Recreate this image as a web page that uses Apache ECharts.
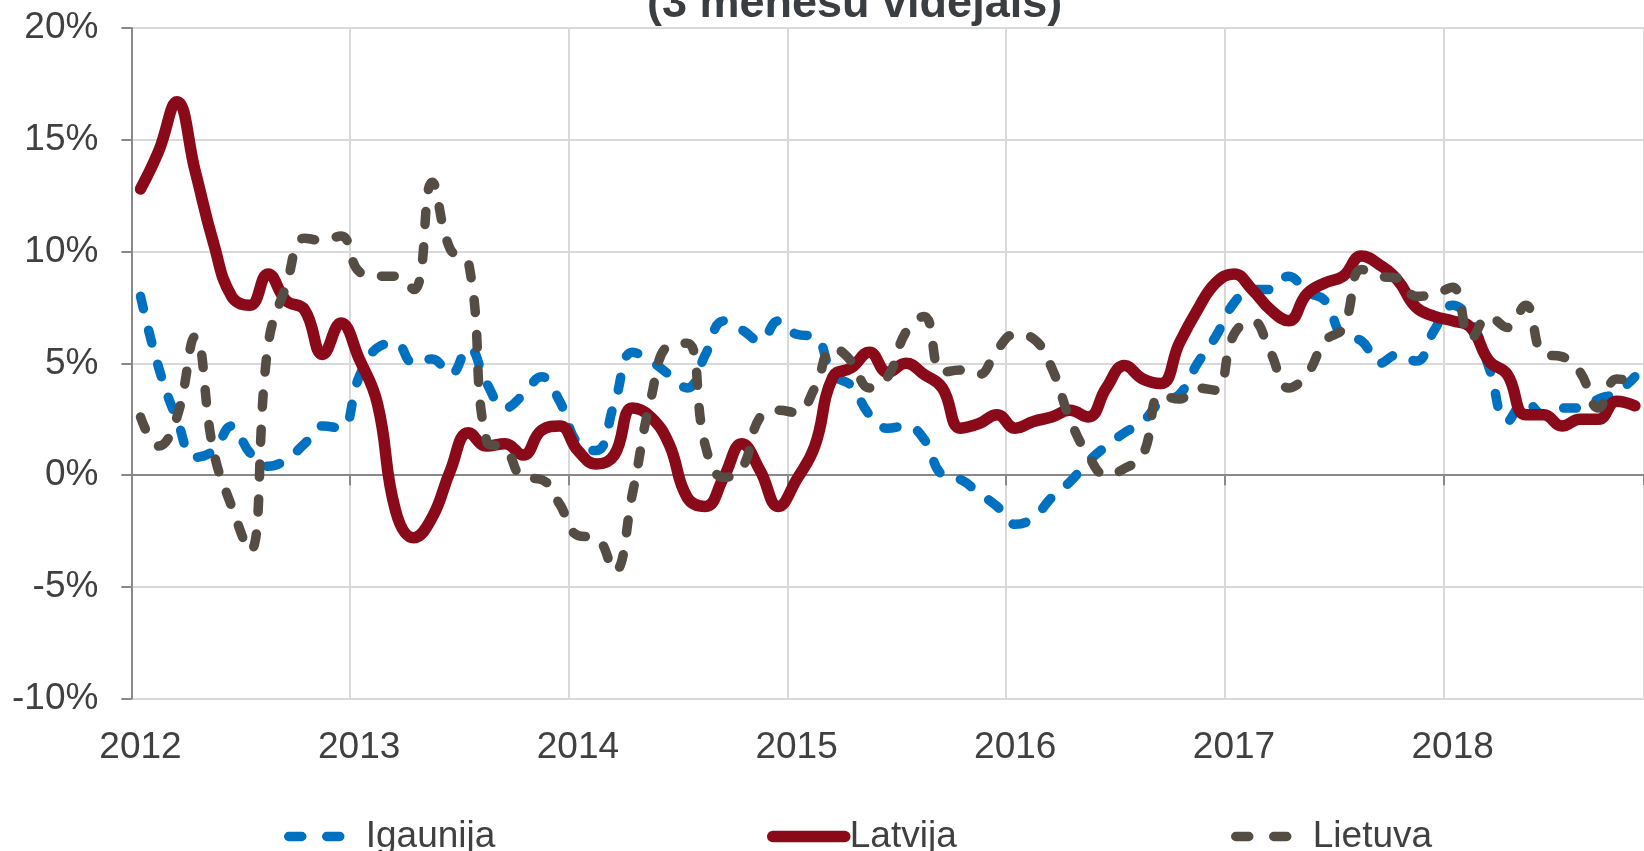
<!DOCTYPE html>
<html>
<head>
<meta charset="utf-8">
<script src="https://cdn.jsdelivr.net/npm/echarts@6/dist/echarts.min.js"></script>
<style>
  html, body { margin: 0; padding: 0; background: #fff; }
  #chart { width: 1644px; height: 851px; }
</style>
</head>
<body>
<div id="chart"></div>
<script>
// monthly points, Jan 2012 .. Nov 2018 (chart is cropped on the right)
const years = ['2012', '2013', '2014', '2015', '2016', '2017', '2018']
const months = []
years.forEach((y) => {
  for (let m = 1; m <= 12; m++) months.push(y + '-' + String(m).padStart(2, '0'))
})
const categories = months.slice(0, 83)

const igaunija = [
  8.0, 4.8, 2.5, 0.8, 1.1, 2.2, 1.0, 0.4, 0.7, 1.4, 2.2, 2.1,
  4.4, 5.7, 5.9, 5.0, 5.2, 4.5, 5.7, 4.1, 3.0, 3.6, 4.4, 3.3,
  1.4, 1.1, 3.2, 5.5, 5.1, 4.5, 3.9, 5.4, 6.9, 6.5, 6.0, 6.9,
  6.3, 6.2, 4.5, 4.0, 2.7, 2.1, 2.2, 1.6, 0.0, -0.2, -0.8, -1.4,
  -2.2, -1.9, -1.0, -0.3, 0.6, 1.3, 1.9, 2.4, 3.3, 3.6, 5.0, 6.2,
  7.7, 8.3, 8.3, 8.9, 8.2, 7.8, 6.2, 6.0, 5.0, 5.4, 5.1, 6.5,
  7.6, 6.9, 4.8, 2.4, 3.3, 2.7, 3.0, 3.0, 3.4, 3.7, 4.4,
]
const latvija = [
  12.8, 14.5, 16.7, 13.6, 10.4, 8.0, 7.6, 9.0, 7.8, 7.4, 5.4, 6.8,
  5.2, 3.2, -1.6, -2.8, -1.9, 0.2, 1.9, 1.3, 1.4, 0.9, 2.0, 2.2,
  1.1, 0.5, 0.9, 3.0, 2.6, 1.4, -1.0, -1.4, -0.1, 1.4, 0.2, -1.4,
  -0.2, 1.3, 4.4, 4.8, 5.5, 4.6, 5.0, 4.5, 3.9, 2.1, 2.3, 2.7,
  2.1, 2.4, 2.6, 2.9, 2.6, 3.9, 4.9, 4.3, 4.1, 5.9, 7.4, 8.6,
  9.0, 8.3, 7.4, 6.9, 8.1, 8.6, 8.9, 9.8, 9.4, 8.7, 7.5, 7.1,
  6.9, 6.6, 5.1, 4.5, 2.7, 2.7, 2.2, 2.5, 2.5, 3.3, 3.1,
]
const lietuva = [
  2.6, 1.3, 2.6, 6.2, 1.1, -1.4, -3.4, 5.8, 8.5, 10.6, 10.5, 10.7,
  9.1, 8.9, 8.9, 8.3, 13.1, 10.1, 9.5, 1.5, 1.2, -0.1, -0.2, -1.3,
  -2.7, -2.8, -4.3, -0.8, 3.4, 5.8, 5.9, 1.3, -0.1, 0.3, 2.6, 2.9,
  2.8, 3.9, 5.7, 5.1, 3.9, 4.4, 6.4, 7.1, 4.6, 4.7, 4.5, 5.6,
  6.3, 6.1, 4.8, 2.5, 0.9, 0.0, 0.3, 0.9, 3.6, 3.4, 3.9, 3.8,
  6.3, 6.9, 5.5, 3.9, 4.5, 6.0, 6.6, 9.2, 8.9, 8.8, 8.0, 8.1,
  8.4, 6.1, 7.1, 6.6, 7.6, 5.4, 5.3, 4.6, 3.0, 4.3, 4.2,
]

const FONT = 'Liberation Sans, Arial, sans-serif'
const TEXT = '#404040'
const GRID_LINE = '#d9d9d9'
const AXIS_LINE = '#898989'
const DASH = [13, 22]
const LEGEND_DASH = [13, 25]
const DASHED_WIDTH = 9.5
const SOLID_WIDTH = 11.5

const chart = echarts.init(document.getElementById('chart'), null, { renderer: 'canvas' })

const makeSeries = (name, data, color, width, dashed) => ({
  name,
  type: 'line',
  data,
  xAxisIndex: 0,
  symbol: 'none',
  smooth: 0.45,
  lineStyle: {
    color,
    width,
    type: dashed ? DASH : 'solid',
    cap: 'round',
    join: 'round',
  },
  itemStyle: { color },
  emphasis: { disabled: true },
})

// one legend per series: the reference spreads them far apart
const makeLegend = (name, left, width, dashed) => ({
  data: [name],
  left,
  top: 818,
  padding: 0,
  itemWidth: 72,
  itemHeight: 14,
  selectedMode: false,
  itemStyle: { opacity: 0 },
  lineStyle: { width, type: dashed ? LEGEND_DASH : 'solid', cap: 'round' },
  textStyle: { fontFamily: FONT, fontSize: 37, color: TEXT },
})

chart.setOption({
  animation: false,
  backgroundColor: '#fff',
  title: {
    text: '(3 mēnešu vidējais)',
    left: 647,
    top: -18,
    padding: 0,
    textStyle: { fontFamily: FONT, fontSize: 45, fontWeight: 'bold', color: '#3b3e41' },
  },
  legend: [
    makeLegend('Igaunija', 284, DASHED_WIDTH, true),
    makeLegend('Latvija', 767, SOLID_WIDTH, false),
    makeLegend('Lietuva', 1231, DASHED_WIDTH, true),
  ],
  grid: { left: 131.4, top: 28, right: -10.5, bottom: 152.3, containLabel: false },
  xAxis: [
    {
      type: 'category',
      data: categories,
      boundaryGap: true,
      position: 'bottom',
      axisLine: { show: false, onZero: false },
      axisTick: { show: false },
      axisLabel: {
        interval: 11,
        margin: 31,
        fontFamily: FONT,
        fontSize: 37,
        color: TEXT,
        formatter: (v) => v.slice(0, 4),
      },
      splitLine: { show: true, interval: 11, lineStyle: { color: GRID_LINE, width: 2 } },
    },
    {
      // zero line with the year ticks hanging below it
      type: 'category',
      data: categories,
      boundaryGap: true,
      position: 'top',
      axisLine: { show: true, onZero: true, lineStyle: { color: AXIS_LINE, width: 2 } },
      axisTick: { show: true, inside: true, interval: 11, length: 10, lineStyle: { color: AXIS_LINE, width: 2 } },
      axisLabel: { show: false },
      splitLine: { show: false },
    },
  ],
  yAxis: {
    type: 'value',
    min: -10,
    max: 20,
    interval: 5,
    axisLine: { show: true, lineStyle: { color: AXIS_LINE, width: 2 } },
    axisTick: { show: true, length: 10, lineStyle: { color: AXIS_LINE, width: 2 } },
    axisLabel: {
      margin: 33,
      fontFamily: FONT,
      fontSize: 37,
      color: TEXT,
      formatter: '{value}%',
    },
    splitLine: { show: true, lineStyle: { color: GRID_LINE, width: 2 } },
  },
  series: [
    makeSeries('Igaunija', igaunija, '#0070c0', DASHED_WIDTH, true),
    makeSeries('Latvija', latvija, '#8b0a1a', SOLID_WIDTH, false),
    makeSeries('Lietuva', lietuva, '#554d43', DASHED_WIDTH, true),
  ],
})
</script>
</body>
</html>
